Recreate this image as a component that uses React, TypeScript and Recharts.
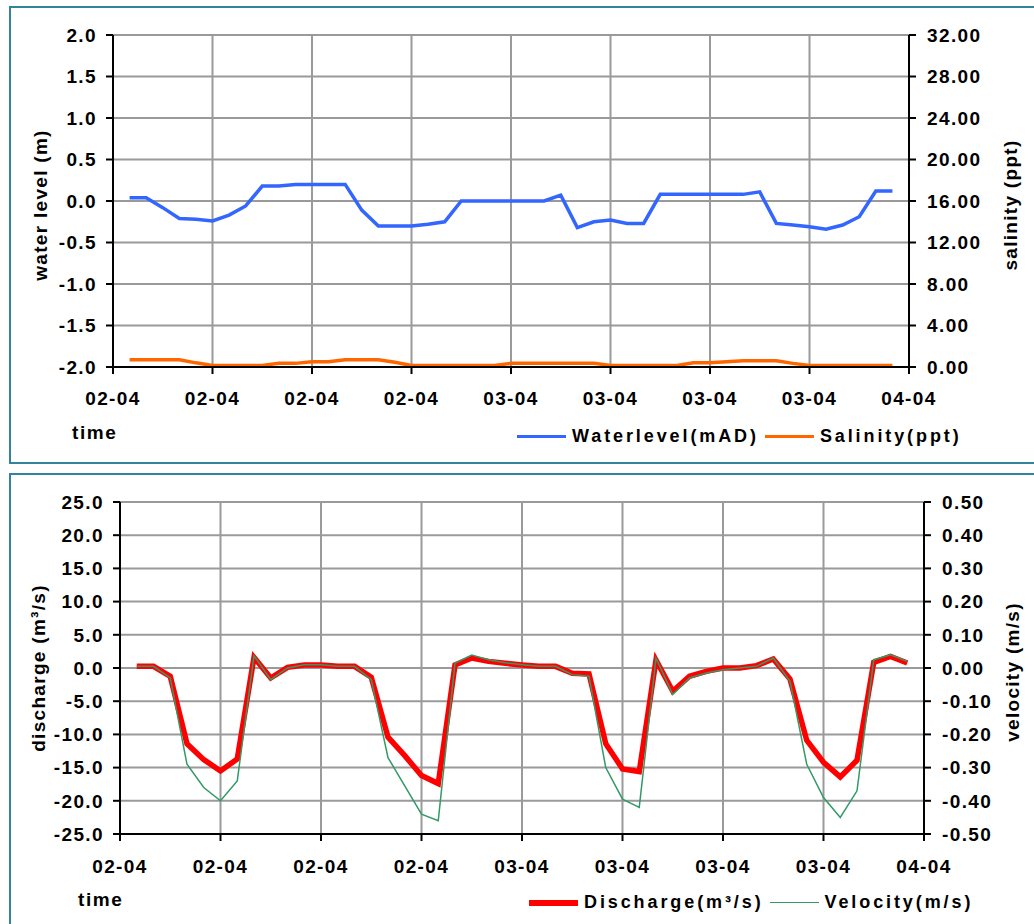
import React from 'react'
import { LineChart, Line, XAxis, YAxis, CartesianGrid, Legend } from 'recharts'

const FONT = '"Liberation Sans", Arial, Helvetica, sans-serif'
const BORDER = '#31849b'

// hourly readings, 02-04 01:00 .. 03-04 23:00
const hours = [
  1, 2, 3, 4, 5, 6, 7, 8, 9, 10, 11, 12, 13, 14, 15, 16, 17, 18, 19, 20, 21, 22, 23, 24,
  25, 26, 27, 28, 29, 30, 31, 32, 33, 34, 35, 36, 37, 38, 39, 40, 41, 42, 43, 44, 45, 46, 47,
]
const tickHours = [0, 6, 12, 18, 24, 30, 36, 42, 48]
const tickLabels = ['02-04', '02-04', '02-04', '02-04', '03-04', '03-04', '03-04', '03-04', '04-04']

const waterLevel = [
  0.04, 0.04, -0.08, -0.21, -0.22, -0.24, -0.17, -0.06, 0.18, 0.18,
  0.2, 0.2, 0.2, 0.2, -0.11, -0.3, -0.3, -0.3, -0.28, -0.25,
  0.0, 0.0, 0.0, 0.0, 0.0, 0.0, 0.07, -0.32, -0.25, -0.23,
  -0.27, -0.27, 0.08, 0.08, 0.08, 0.08, 0.08, 0.08, 0.11, -0.27,
  -0.29, -0.31, -0.34, -0.29, -0.19, 0.12, 0.12,
]
const salinity = [
  0.7, 0.7, 0.7, 0.7, 0.4, 0.15, 0.15, 0.15, 0.15, 0.35,
  0.35, 0.5, 0.5, 0.7, 0.7, 0.7, 0.45, 0.15, 0.15, 0.15,
  0.15, 0.15, 0.15, 0.35, 0.35, 0.35, 0.35, 0.35, 0.35, 0.15,
  0.15, 0.15, 0.15, 0.15, 0.4, 0.4, 0.5, 0.6, 0.6, 0.6,
  0.35, 0.15, 0.15, 0.15, 0.15, 0.15, 0.15,
]
const discharge = [
  0.25, 0.25, -1.25, -11.4, -13.8, -15.5, -13.7, 1.6, -1.5, 0.1,
  0.45, 0.45, 0.25, 0.25, -1.4, -10.4, -13.2, -16.2, -17.4, 0.45,
  1.5, 1.0, 0.7, 0.45, 0.25, 0.25, -0.8, -0.9, -11.4, -15.2,
  -15.6, 1.2, -3.5, -1.25, -0.5, 0.0, 0.0, 0.35, 1.35, -1.65,
  -10.9, -14.2, -16.4, -13.9, 0.85, 1.75, 0.75,
]
const velocity = [
  0.005, 0.005, -0.03, -0.29, -0.36, -0.4, -0.34, 0.037, -0.035, 0.0,
  0.01, 0.01, 0.005, 0.005, -0.035, -0.27, -0.355, -0.44, -0.46, 0.015,
  0.039, 0.025, 0.016, 0.01, 0.005, 0.005, -0.02, -0.025, -0.3, -0.395,
  -0.42, 0.03, -0.08, -0.03, -0.015, -0.005, 0.0, 0.005, 0.03, -0.04,
  -0.29, -0.39, -0.45, -0.37, 0.025, 0.04, 0.02,
]

const levelTicks = [-2, -1.5, -1, -0.5, 0, 0.5, 1, 1.5, 2]
const salinityTicks = [0, 4, 8, 12, 16, 20, 24, 28, 32]
const dischargeTicks = [-25, -20, -15, -10, -5, 0, 5, 10, 15, 20, 25]
const velocityTicks = [-0.5, -0.4, -0.3, -0.2, -0.1, 0, 0.1, 0.2, 0.3, 0.4, 0.5]

const levelRows = hours.map((h, i) => ({ hour: h, level: waterLevel[i], salinity: salinity[i] }))
const flowRows = hours.map((h, i) => ({ hour: h, discharge: discharge[i], velocity: velocity[i] }))

const tick = { fill: '#000', fontSize: 19, fontWeight: 700, fontFamily: FONT, letterSpacing: 1.4 }
const axisLine = { stroke: '#000', strokeWidth: 2 }
const fmtTime = (v: number) => tickLabels[tickHours.indexOf(v)] ?? ''

const sideTitle = (text: string, x: number, shift = 0) => (props: any) => {
  const vb = props.viewBox
  const cy = vb.y + vb.height / 2 + shift
  return (
    <text
      x={x}
      y={cy}
      transform={`rotate(-90 ${x} ${cy})`}
      textAnchor="middle"
      dominantBaseline="central"
      fill="#000"
      style={{ fontFamily: FONT, fontSize: 19, fontWeight: 700, letterSpacing: 1.3 }}
    >
      {text}
    </text>
  )
}

// legend keeps the order of the series list, not alphabetical
const legendContent = (order: string[], thickness: Record<string, number>) => (props: any) => {
  const items = [...(props.payload || [])].sort(
    (a: any, b: any) => order.indexOf(a.value) - order.indexOf(b.value),
  )
  return (
    <div
      style={{
        display: 'flex',
        alignItems: 'center',
        fontFamily: FONT,
        fontWeight: 700,
        fontSize: 18,
        letterSpacing: 2.9,
        color: '#000',
        whiteSpace: 'nowrap',
      }}
    >
      {items.map((it: any) => (
        <div key={it.value} style={{ display: 'flex', alignItems: 'center', marginRight: 6 }}>
          <span
            style={{
              display: 'inline-block',
              width: 49,
              height: thickness[it.value] ?? 3,
              background: it.color,
              marginRight: 6,
            }}
          />
          <span>{it.value}</span>
        </div>
      ))}
    </div>
  )
}

const timeStyle: React.CSSProperties = {
  position: 'absolute',
  fontFamily: FONT,
  fontWeight: 700,
  fontSize: 19,
  letterSpacing: 1.6,
  color: '#000',
}

export default function App() {
  return (
    <div
      style={{
        position: 'absolute',
        left: 0,
        top: 0,
        width: 1034,
        height: 924,
        overflow: 'hidden',
        background: '#fff',
      }}
    >
      <div
        style={{
          position: 'absolute',
          left: 9,
          top: 6,
          width: 1040,
          height: 458,
          boxSizing: 'border-box',
          borderLeft: `2px solid ${BORDER}`,
          borderTop: `2px solid ${BORDER}`,
          borderBottom: `2px solid ${BORDER}`,
        }}
      />
      <div
        style={{
          position: 'absolute',
          left: 9,
          top: 473,
          width: 1040,
          height: 500,
          boxSizing: 'border-box',
          borderLeft: `2px solid ${BORDER}`,
          borderTop: `2px solid ${BORDER}`,
        }}
      />

      <div style={{ position: 'absolute', left: 0, top: 0 }}>
        <LineChart
          width={1034}
          height={463}
          data={levelRows}
          margin={{ top: 35, right: 0, bottom: 56, left: 0 }}
        >
          <CartesianGrid stroke="#9a9a9a" strokeWidth={2} />
          <XAxis
            dataKey="hour"
            type="number"
            domain={[0, 48]}
            ticks={tickHours}
            interval={0}
            tickFormatter={fmtTime}
            height={40}
            tick={tick}
            tickSize={7}
            tickMargin={18}
            axisLine={axisLine}
            tickLine={axisLine}
          />
          <YAxis
            domain={[-2, 2]}
            ticks={levelTicks}
            interval={0}
            width={113}
            tickFormatter={(v: number) => v.toFixed(1)}
            tick={tick}
            tickSize={7}
            tickMargin={9}
            axisLine={axisLine}
            tickLine={axisLine}
            label={sideTitle('water level (m)', 40, 4)}
          />
          <YAxis
            yAxisId="right"
            orientation="right"
            domain={[0, 32]}
            ticks={salinityTicks}
            interval={0}
            width={1034 - 909}
            tickFormatter={(v: number) => v.toFixed(2)}
            tick={tick}
            tickSize={7}
            tickMargin={11}
            axisLine={axisLine}
            tickLine={axisLine}
            label={sideTitle('salinity (ppt)', 1010, 4)}
          />
          <Line
            dataKey="level"
            name="Waterlevel(mAD)"
            stroke="#3366ff"
            strokeWidth={3.5}
            dot={false}
            isAnimationActive={false}
          />
          <Line
            dataKey="salinity"
            yAxisId="right"
            name="Salinity(ppt)"
            stroke="#ff6600"
            strokeWidth={3.5}
            dot={false}
            isAnimationActive={false}
          />
          <Legend
            layout="horizontal"
            verticalAlign="middle"
            align="center"
            content={legendContent(['Waterlevel(mAD)', 'Salinity(ppt)'], {
              'Waterlevel(mAD)': 3,
              'Salinity(ppt)': 3,
            })}
            wrapperStyle={{ position: 'absolute', left: 517, top: 426, width: 510, height: 22 }}
          />
        </LineChart>
      </div>
      <div style={{ ...timeStyle, left: 72, top: 422 }}>time</div>

      <div style={{ position: 'absolute', left: 0, top: 470 }}>
        <LineChart
          width={1034}
          height={454}
          data={flowRows}
          margin={{ top: 32, right: 0, bottom: 50, left: 0 }}
        >
          <CartesianGrid stroke="#9a9a9a" strokeWidth={2} />
          <XAxis
            dataKey="hour"
            type="number"
            domain={[0, 48]}
            ticks={tickHours}
            interval={0}
            tickFormatter={fmtTime}
            height={40}
            tick={tick}
            tickSize={7}
            tickMargin={19}
            axisLine={axisLine}
            tickLine={axisLine}
          />
          <YAxis
            domain={[-25, 25]}
            ticks={dischargeTicks}
            interval={0}
            width={120}
            tickFormatter={(v: number) => v.toFixed(1)}
            tick={tick}
            tickSize={7}
            tickMargin={9}
            axisLine={axisLine}
            tickLine={axisLine}
            label={sideTitle('discharge (m³/s)', 38)}
          />
          <YAxis
            yAxisId="right"
            orientation="right"
            domain={[-0.5, 0.5]}
            ticks={velocityTicks}
            interval={0}
            width={1034 - 924}
            tickFormatter={(v: number) => v.toFixed(2)}
            tick={tick}
            tickSize={7}
            tickMargin={11}
            axisLine={axisLine}
            tickLine={axisLine}
            label={sideTitle('velocity (m/s)', 1012, 4)}
          />
          <Line
            dataKey="discharge"
            name="Discharge(m³/s)"
            stroke="#ff0000"
            strokeWidth={5.5}
            dot={false}
            isAnimationActive={false}
          />
          <Line
            dataKey="velocity"
            yAxisId="right"
            name="Velocity(m/s)"
            stroke="#339966"
            strokeWidth={1.5}
            dot={false}
            isAnimationActive={false}
          />
          <Legend
            layout="horizontal"
            verticalAlign="middle"
            align="center"
            content={legendContent(['Discharge(m³/s)', 'Velocity(m/s)'], {
              'Discharge(m³/s)': 6,
              'Velocity(m/s)': 1.5,
            })}
            wrapperStyle={{ position: 'absolute', left: 529, top: 422, width: 510, height: 22 }}
          />
        </LineChart>
      </div>
      <div style={{ ...timeStyle, left: 78, top: 889 }}>time</div>
    </div>
  )
}
